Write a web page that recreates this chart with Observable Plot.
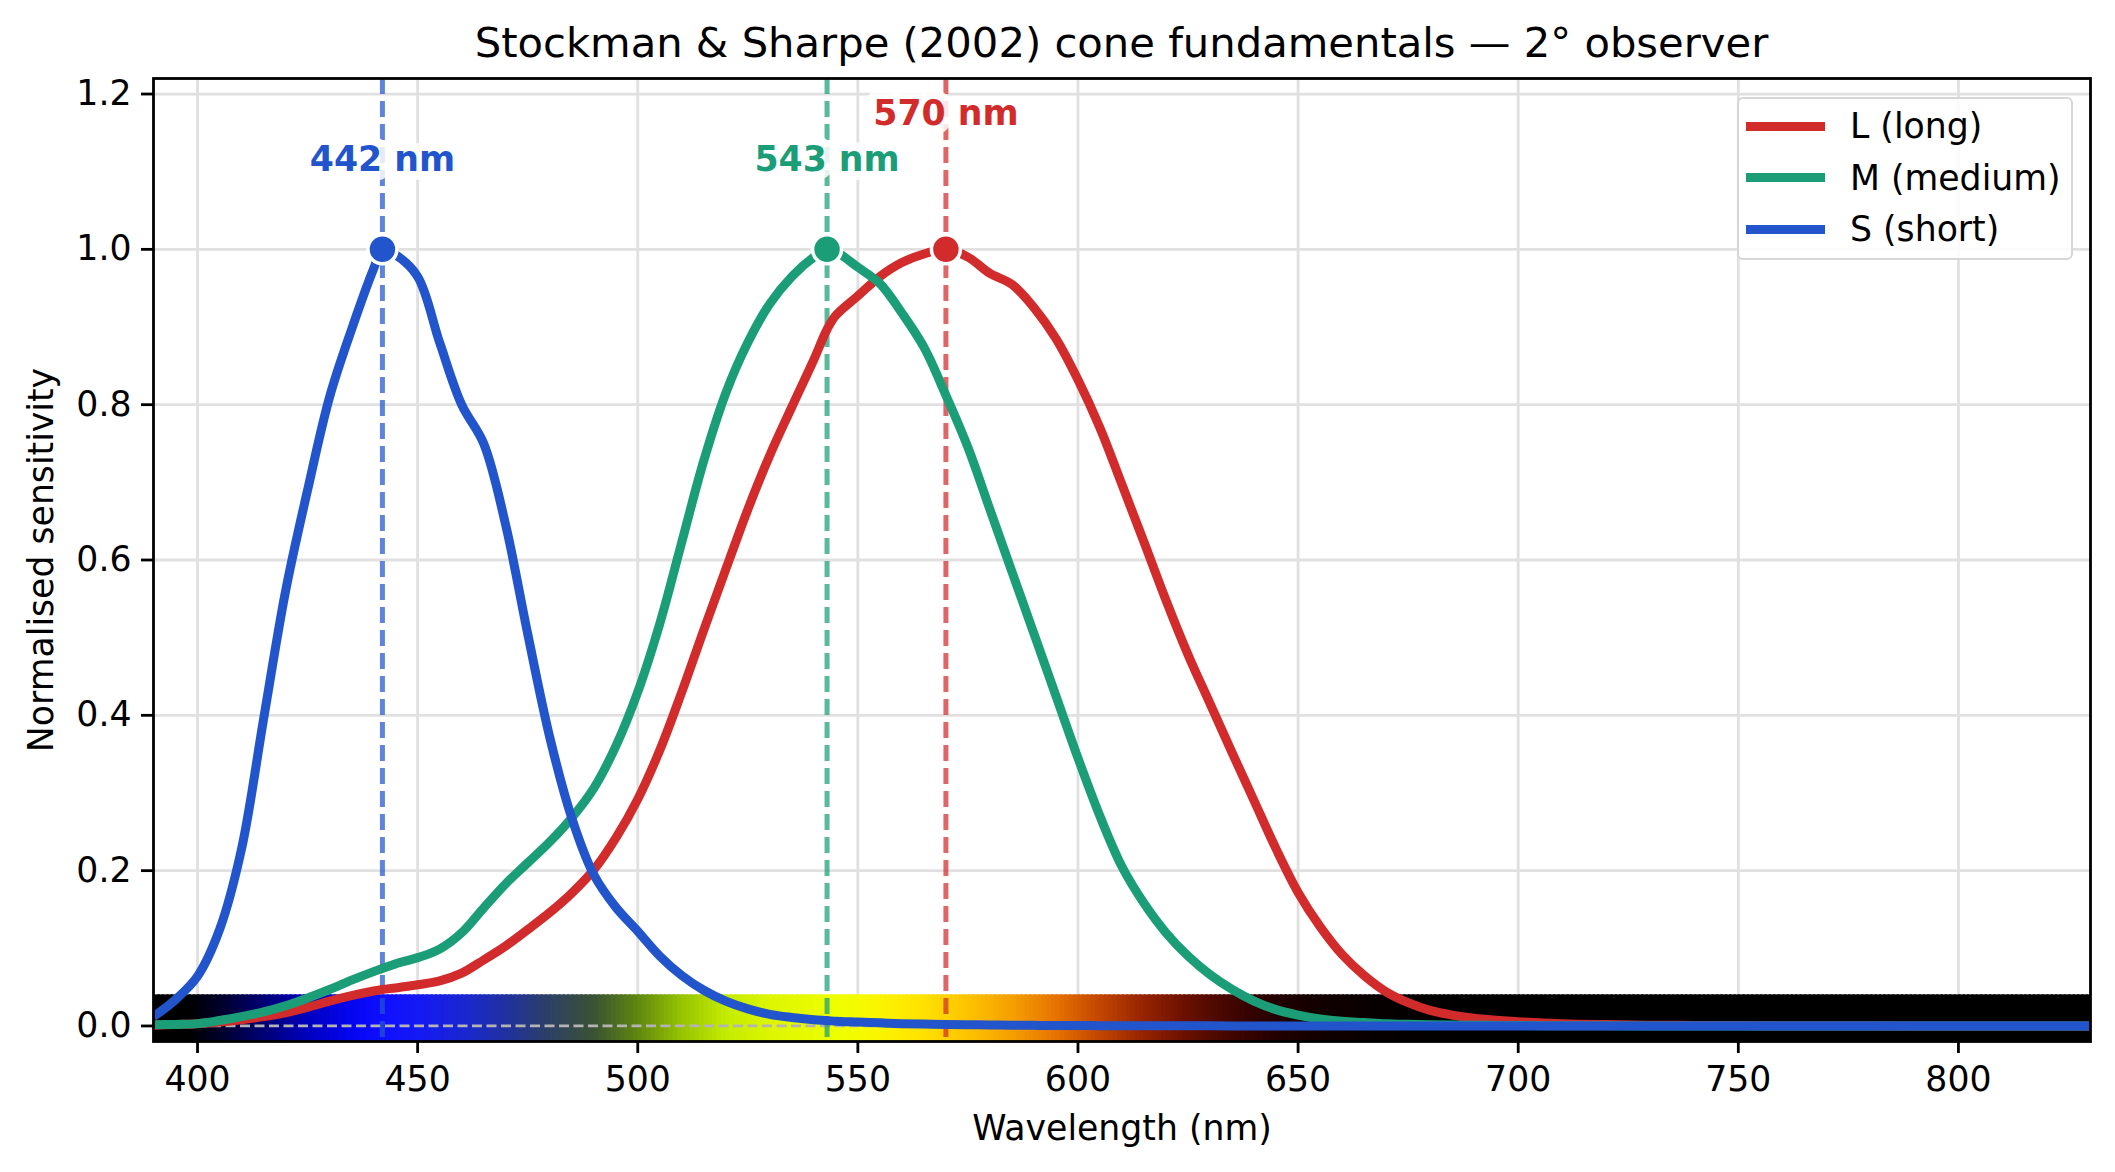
<!DOCTYPE html>
<html>
<head>
<meta charset="utf-8">
<script src="https://cdn.jsdelivr.net/npm/d3@7"></script>
<script src="https://cdn.jsdelivr.net/npm/@observablehq/plot@0.6"></script>
<style>
  html, body { margin: 0; padding: 0; background: #fff; overflow: hidden; }
  #wrap { position: relative; width: 2115px; height: 1172px; font-family: "DejaVu Sans", sans-serif; color: #000; }
  #title { height: 64px; box-sizing: border-box; padding-top: 22px; padding-left: 153px; width: 2090px;
           text-align: center; font-size: 41.7px; line-height: 41.7px; white-space: nowrap; }
  #legend { position: absolute; left: 1737px; top: 97px; width: 336px; height: 163px; box-sizing: border-box;
            border: 2.8px solid #d6d6d6; border-radius: 6px; background: rgba(255,255,255,0.85); }
  .row { position: absolute; left: 0; height: 44px; display: flex; align-items: center; font-size: 34.7px; }
  .sw { width: 79px; height: 9px; margin-left: 7px; margin-right: 25px; }
</style>
</head>
<body>
<div id="wrap">
  <div id="title"></div>
  <div id="chart"></div>
  <div id="legend"></div>
</div>
<script>
// ---------------- data ----------------
const title = "Stockman & Sharpe (2002) cone fundamentals \u2014 2\u00b0 observer";
const xLabel = "Wavelength (nm)";
const yLabel = "Normalised sensitivity";

const xTicks = [400, 450, 500, 550, 600, 650, 700, 750, 800];
const yTicks = [0, 0.2, 0.4, 0.6, 0.8, 1.0, 1.2];

const seriesKeys = ["L", "M", "S"];
const seriesNames = ["L (long)", "M (medium)", "S (short)"];
const seriesColors = ["#d22b2b", "#1b9e77", "#2255cc"];

const wavelengths = [
  390, 395, 400, 405, 410, 415, 420, 425, 430, 435, 440, 442, 445, 450, 455, 460, 465, 470, 475, 480,
  485, 490, 495, 500, 505, 510, 515, 520, 525, 530, 535, 540, 543, 545, 550, 555, 560, 565, 570, 575,
  580, 585, 590, 595, 600, 605, 610, 615, 620, 625, 630, 635, 640, 645, 650, 655, 660, 665, 670, 675,
  680, 685, 690, 695, 700, 710, 720, 730, 740, 750, 760, 770, 780, 790, 800, 810, 820, 830
];

const lCone = [
  0.001, 0.002, 0.003, 0.005, 0.008, 0.012, 0.017, 0.024, 0.032, 0.039, 0.045, 0.047, 0.049, 0.053, 0.058, 0.068, 0.085, 0.103, 0.124, 0.146,
  0.171, 0.201, 0.242, 0.292, 0.355, 0.430, 0.510, 0.588, 0.665, 0.735, 0.797, 0.858, 0.897, 0.915, 0.940, 0.965, 0.983, 0.994, 1.000, 0.990,
  0.969, 0.955, 0.925, 0.885, 0.832, 0.770, 0.697, 0.623, 0.548, 0.478, 0.415, 0.352, 0.290, 0.228, 0.172, 0.128, 0.092, 0.065, 0.044, 0.030,
  0.020, 0.014, 0.010, 0.0075, 0.0056, 0.0030, 0.0018, 0.0010, 0.0007, 0.0005, 0.0003, 0.0002, 0.00015, 0.0001, 0.0001, 0.00005, 0.00005, 0.00003
];

const mCone = [
  0.0015, 0.002, 0.003, 0.007, 0.012, 0.018, 0.026, 0.036, 0.047, 0.059, 0.070, 0.074, 0.080, 0.088, 0.099, 0.120, 0.152, 0.183, 0.210, 0.237,
  0.268, 0.306, 0.360, 0.430, 0.518, 0.623, 0.728, 0.815, 0.880, 0.930, 0.965, 0.990, 1.000, 0.997, 0.977, 0.956, 0.918, 0.874, 0.812, 0.745,
  0.665, 0.585, 0.505, 0.425, 0.345, 0.270, 0.205, 0.158, 0.120, 0.090, 0.066, 0.047, 0.032, 0.021, 0.014, 0.009, 0.006, 0.0045, 0.003, 0.0022,
  0.0016, 0.0012, 0.0009, 0.0007, 0.0005, 0.0003, 0.0002, 0.0001, 0.0001, 0.00005, 0.00003, 0.00002, 0.00001, 0.00001, 0, 0, 0, 0
];

const sCone = [
  0.012, 0.034, 0.064, 0.124, 0.228, 0.395, 0.560, 0.690, 0.810, 0.897, 0.975, 1.000, 0.993, 0.965, 0.880, 0.800, 0.750, 0.645, 0.505, 0.372,
  0.268, 0.195, 0.153, 0.122, 0.090, 0.065, 0.046, 0.032, 0.022, 0.015, 0.011, 0.008, 0.007, 0.006, 0.005, 0.004, 0.003, 0.0025, 0.002, 0.0016,
  0.0013, 0.001, 0.0008, 0.0006, 0.0005, 0.0004, 0.0003, 0.0003, 0.0002, 0.0002, 0.0002, 0.0001, 0.0001, 0.0001, 0.0001, 0.0001, 0.0001, 0.0001, 0.0001, 0.0001,
  0.0001, 0.0001, 0.0001, 0.0001, 0.0001, 0, 0, 0, 0, 0, 0, 0, 0, 0, 0, 0, 0, 0
];

const peakNm = [570, 543, 442];
const peakValue = [1, 1, 1];
const peakLabel = ["570 nm", "543 nm", "442 nm"];
const peakLabelY = [1.175, 1.115, 1.115];

// visible-spectrum strip colour stops
const stripNm = [390, 398, 405, 415, 425, 435, 442, 450, 460, 470, 480, 490, 500, 510, 520, 530, 545, 555, 565, 575,
                 585, 595, 605, 615, 625, 635, 645, 655, 670, 690, 830];
const stripColor = ["#000000", "#000000", "#000028", "#000073", "#0000be", "#0505f0", "#0f0fff", "#1419f5", "#1926d2", "#2030a0",
                    "#2d4164", "#3a5232", "#5f870f", "#96c300", "#c3eb00", "#dcf500", "#eeff00", "#faf500", "#ffe100", "#fdc300",
                    "#f5a000", "#e67300", "#c34600", "#962300", "#690f00", "#410500", "#230000", "#120000", "#060000", "#000000", "#000000"];
const stripBottom = -0.02;
const stripTop = 0.04;

// ---------------- build tables ----------------
const seriesValues = [lCone, mCone, sCone];
const curves = seriesKeys.map((k, i) => wavelengths.map((nm, j) => ({series: k, nm, v: seriesValues[i][j], color: seriesColors[i]})));
const peaks = peakNm.map((nm, i) => ({nm, v: peakValue[i], label: peakLabel[i], ly: peakLabelY[i], color: seriesColors[i]}));
const stripScale = d3.scaleLinear().domain(stripNm).range(stripColor).interpolate(d3.interpolateRgb);
const strip = d3.range(390, 830, 1).map(nm => ({x1: nm, x2: nm + 1.6, fill: stripScale(nm + 0.5)}));

// ---------------- title & legend ----------------
document.getElementById("title").textContent = title;
const legend = document.getElementById("legend");
seriesNames.forEach((name, i) => {
  const row = document.createElement("div");
  row.className = "row";
  row.style.top = (5 + i * 51.5) + "px";
  const sw = document.createElement("div");
  sw.className = "sw";
  sw.style.background = seriesColors[i];
  const t = document.createElement("span");
  t.textContent = name;
  row.append(sw, t);
  legend.append(row);
});

// ---------------- chart ----------------
const fs = 34.7;
const chart = Plot.plot({
  width: 2115,
  height: 1108,
  marginTop: 14,
  marginLeft: 153,
  marginRight: 25,
  marginBottom: 131,
  style: {fontFamily: "DejaVu Sans, sans-serif", fontSize: fs + "px", color: "#000", background: "#fff", overflow: "visible"},
  x: {domain: [390, 830]},
  y: {domain: [-0.02, 1.22]},
  color: {type: "identity"},
  marks: [
    Plot.gridX({ticks: xTicks, stroke: "#e0e0e0", strokeOpacity: 1, strokeWidth: 2.8}),
    Plot.gridY({ticks: yTicks, stroke: "#e0e0e0", strokeOpacity: 1, strokeWidth: 2.8}),
    Plot.rect(strip, {x1: "x1", x2: "x2", y1: () => stripBottom, y2: () => stripTop, fill: "fill", clip: true}),
    Plot.ruleY([0], {stroke: "#b4b4b4", strokeWidth: 2.8, strokeDasharray: "10,4.5"}),
    Plot.ruleX(peaks, {x: "nm", stroke: "color", strokeOpacity: 0.72, strokeWidth: 5, strokeDasharray: "16,7"}),
    ...curves.map(c => Plot.line(c, {x: "nm", y: "v", stroke: "color", strokeWidth: 9, curve: "catmull-rom", clip: true, strokeLinejoin: "round", strokeLinecap: "butt"})),
    Plot.dot(peaks, {x: "nm", y: "v", r: 14.5, fill: "color", stroke: "#fff", strokeWidth: 3.5}),
    Plot.text(peaks, {x: "nm", y: "ly", text: "label", fill: "color", fontWeight: "bold", fontSize: fs,
                      stroke: "#fff", strokeWidth: 18, strokeOpacity: 0.85, strokeLinejoin: "round", lineAnchor: "middle"}),
    Plot.frame({stroke: "#000", strokeWidth: 2.8}),
    Plot.axisX({ticks: xTicks, tickSize: 12, tickPadding: 13, fontSize: fs, strokeWidth: 2.8, label: null}),
    Plot.axisY({ticks: yTicks, tickFormat: d3.format(".1f"), tickSize: 12, tickPadding: 10, fontSize: fs, strokeWidth: 2.8, label: null}),
    Plot.text([xLabel], {text: d => d, frameAnchor: "bottom", dy: 87, fontSize: fs, lineAnchor: "middle"}),
    Plot.text([yLabel], {text: d => d, frameAnchor: "left", dx: -112, rotate: -90, textAnchor: "middle", fontSize: fs, lineAnchor: "middle"})
  ]
});
document.getElementById("chart").append(chart);
</script>
</body>
</html>
